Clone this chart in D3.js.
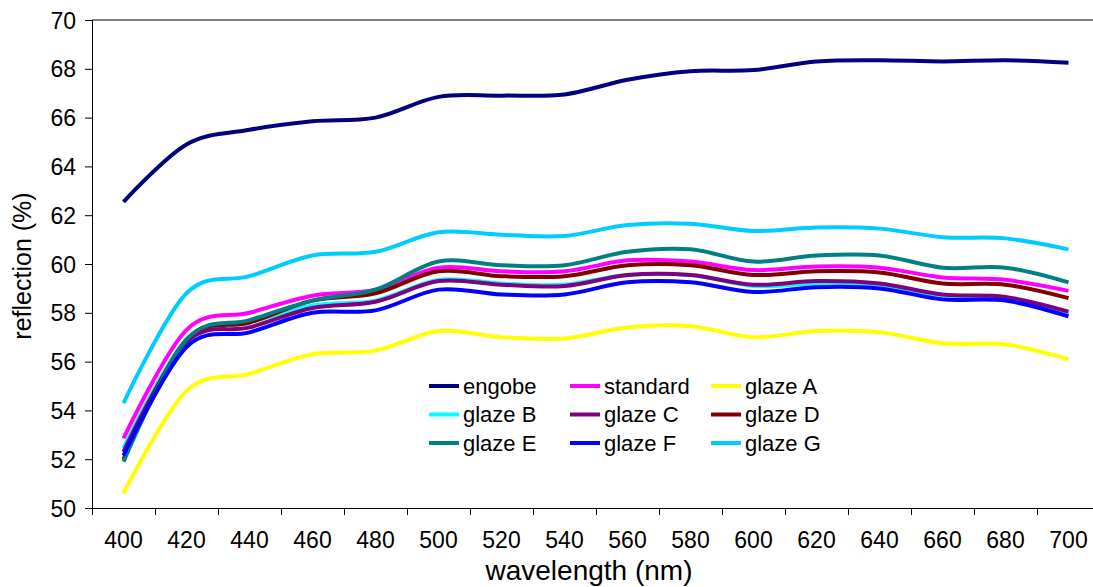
<!DOCTYPE html>
<html>
<head>
<meta charset="utf-8">
<script src="https://cdn.jsdelivr.net/npm/d3@7"></script>
<style>
  html, body { margin: 0; padding: 0; background: #fff; }
  svg { display: block; }
  text { font-family: "Liberation Sans", Arial, sans-serif; fill: #000; }
</style>
</head>
<body>
<svg id="chart" width="1093" height="587"></svg>
<script>
const wavelengths = ["400","420","440","460","480","500","520","540","560","580","600","620","640","660","680","700"];
const yTicks = [50,52,54,56,58,60,62,64,66,68,70];

const engobe   = [62.55,64.9,65.5,65.85,66.0,66.85,66.9,66.95,67.55,67.9,67.95,68.3,68.35,68.3,68.35,68.25];
const standard = [52.85,57.3,58.0,58.7,58.95,59.85,59.7,59.7,60.15,60.1,59.75,59.9,59.85,59.45,59.35,58.9];
const glazeA   = [50.6,54.8,55.5,56.3,56.45,57.25,57.0,56.95,57.4,57.45,57.0,57.25,57.2,56.75,56.7,56.1];
const glazeB   = [52.45,56.9,57.6,58.3,58.5,59.35,59.2,59.15,59.55,59.55,59.1,59.2,59.15,58.6,58.6,57.95];
const glazeC   = [52.3,56.8,57.4,58.2,58.45,59.3,59.15,59.1,59.55,59.55,59.15,59.3,59.2,58.75,58.65,58.05];
const glazeD   = [52.0,56.9,57.6,58.5,58.8,59.7,59.5,59.5,59.95,59.95,59.55,59.7,59.65,59.2,59.15,58.6];
const glazeE   = [51.9,56.9,57.7,58.5,58.95,60.1,59.95,59.95,60.5,60.6,60.1,60.35,60.35,59.85,59.85,59.25];
const glazeF   = [52.15,56.6,57.2,58.0,58.1,58.95,58.75,58.75,59.25,59.25,58.85,59.05,59.0,58.55,58.5,57.85];
const glazeG   = [54.3,58.8,59.5,60.35,60.5,61.3,61.2,61.15,61.6,61.65,61.35,61.5,61.45,61.1,61.05,60.6];

const seriesNames = ["engobe","standard","glaze A","glaze B","glaze C","glaze D","glaze E","glaze F","glaze G"];
const seriesValues = [engobe, standard, glazeA, glazeB, glazeC, glazeD, glazeE, glazeF, glazeG];
const seriesColors = ["#000080","#FF00FF","#FFFF00","#00FFFF","#800080","#800000","#008080","#0000FF","#00CCFF"];

const svg = d3.select("#chart");
const mLeft = 92, mRight = 1100, mTop = 20, mBottom = 508;

const x = d3.scaleBand().domain(wavelengths).range([mLeft, mRight]).padding(0);
const y = d3.scaleLinear().domain([50, 70]).range([mBottom, mTop]);

// y axis
const yAxis = d3.axisLeft(y).tickValues(yTicks).tickSize(7).tickPadding(9).tickFormat(d3.format("d"));
const gy = svg.append("g").attr("transform", `translate(${mLeft},0)`).call(yAxis);
gy.select(".domain").attr("stroke", "#000").attr("stroke-width", 1);
gy.selectAll(".tick line").attr("stroke", "#000");
gy.selectAll(".tick text").style("font-size", "23px").attr("dy", "0.35em");

// top border line
svg.append("line").attr("x1", mLeft).attr("x2", mRight).attr("y1", y(70)).attr("y2", y(70))
   .attr("stroke", "#000").attr("stroke-width", 1);

// x axis ticks at category boundaries
const boundaries = wavelengths.map(w => x(w)).concat([x(wavelengths[wavelengths.length-1]) + x.bandwidth()]);
const xTickScale = d3.scaleLinear().domain([mLeft, mRight]).range([mLeft, mRight]);
const gxTicks = svg.append("g").attr("transform", `translate(0,${mBottom})`)
  .call(d3.axisBottom(xTickScale).tickValues(boundaries).tickSize(7).tickFormat(""));
gxTicks.select(".domain").attr("stroke", "#000");
gxTicks.selectAll(".tick line").attr("stroke", "#000");

const gx = svg.append("g").attr("transform", `translate(0,${mBottom})`)
  .call(d3.axisBottom(x).tickSize(0).tickPadding(24));
gx.select(".domain").remove();
gx.selectAll(".tick text").style("font-size", "23px");

// axis titles
svg.append("text").attr("x", 589).attr("y", 580).attr("text-anchor", "middle")
   .style("font-size", "28px").text("wavelength (nm)");
svg.append("text").attr("transform", "translate(31,266) rotate(-90)").attr("text-anchor", "middle")
   .style("font-size", "25px").text("reflection (%)");

// lines
const line = d3.line()
  .x((d, i) => x(wavelengths[i]) + x.bandwidth() / 2)
  .y(d => y(d))
  .curve(d3.curveCardinal.tension(0));

seriesValues.forEach((vals, k) => {
  svg.append("path").datum(vals)
    .attr("fill", "none")
    .attr("stroke", seriesColors[k])
    .attr("stroke-width", 4)
    .attr("stroke-linejoin", "round")
    .attr("d", line);
});

// legend
const legX = [429, 570, 711], legY = [386, 414.5, 443];
const leg = svg.append("g");
seriesNames.forEach((name, k) => {
  const cx = legX[k % 3], cy = legY[Math.floor(k / 3)];
  leg.append("line").attr("x1", cx).attr("x2", cx + 30).attr("y1", cy).attr("y2", cy)
    .attr("stroke", seriesColors[k]).attr("stroke-width", 4);
  leg.append("text").attr("x", cx + 34).attr("y", cy).attr("dy", "0.35em")
    .style("font-size", "22px").text(name);
});
</script>
</body>
</html>
